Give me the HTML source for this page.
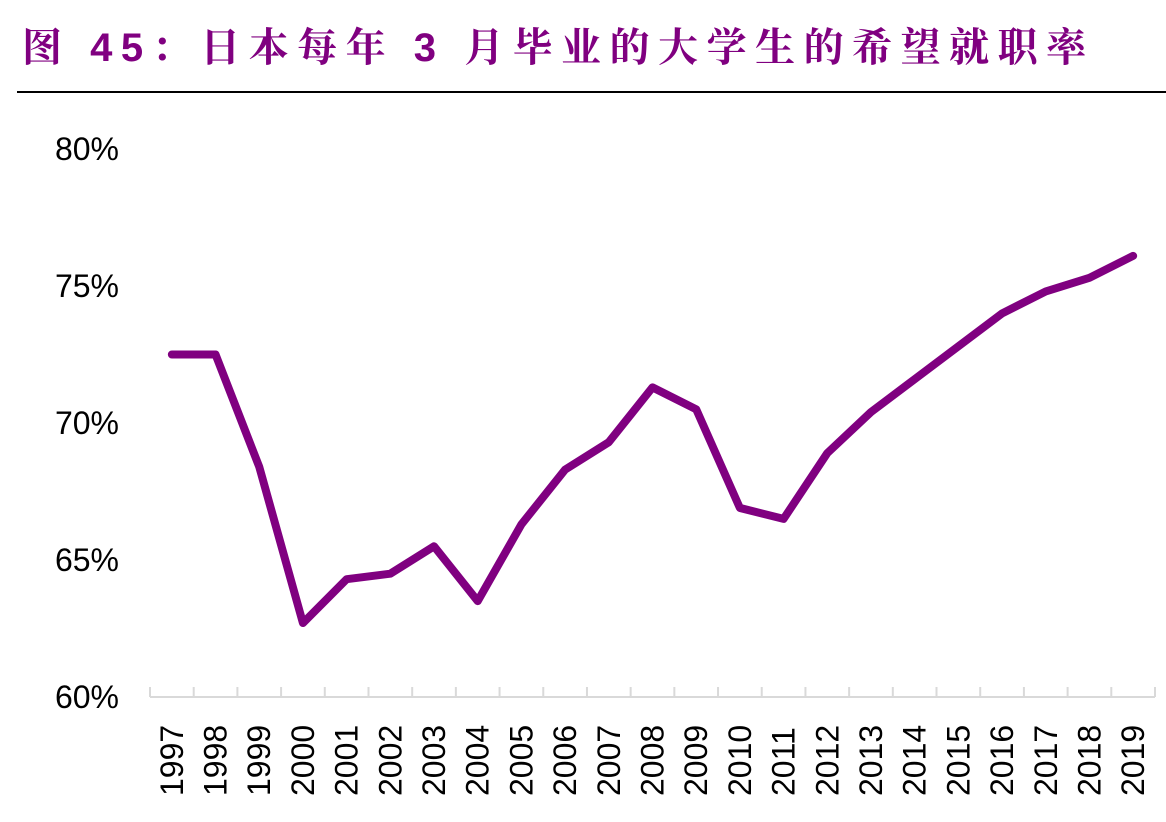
<!DOCTYPE html>
<html><head><meta charset="utf-8"><style>
body{margin:0;background:#fff;width:1166px;height:822px;overflow:hidden}
.t{position:absolute;left:22px;top:16px;font:bold 40px "Liberation Sans","Noto Serif CJK SC",serif;color:#800080;letter-spacing:8.5px;white-space:nowrap}
.rule{position:absolute;left:17px;top:91px;width:1149px;height:2px;background:#000}
</style></head><body>
<div class="t">图 45：日本每年 3 月毕业的大学生的希望就职率</div>
<div class="rule"></div>
<svg id="c" width="1166" height="822" style="position:absolute;left:0;top:0"></svg>
<script>
const years=['1997','1998','1999','2000','2001','2002','2003','2004','2005','2006','2007','2008','2009','2010','2011','2012','2013','2014','2015','2016','2017','2018','2019'];
const rates=[72.5,72.5,68.4,62.7,64.3,64.5,65.5,63.5,66.3,68.3,69.3,71.3,70.5,66.9,66.5,68.9,70.4,71.6,72.8,74.0,74.8,75.3,76.1];
const yTicks=[60,65,70,75,80];
const yTickLabels=['60%','65%','70%','75%','80%'];
const NS='http://www.w3.org/2000/svg',svg=document.getElementById('c');
const x0=150,x1=1155,yBot=697,yTop=149,band=(x1-x0)/years.length;
const X=i=>x0+band*(i+0.5), Y=v=>yBot-(v-60)/20*(yBot-yTop);
function mk(t,a){const e=document.createElementNS(NS,t);for(const k in a)e.setAttribute(k,a[k]);svg.appendChild(e);return e;}
yTicks.forEach((v,i)=>{const e=mk('text',{x:119,y:Y(v)+11,'text-anchor':'end','font-size':32,'font-family':'Liberation Sans, sans-serif',fill:'#000'});e.textContent=yTickLabels[i];

});
const ax=mk('line',{x1:x0,y1:yBot,x2:x1,y2:yBot,stroke:'#d9d9d9','stroke-width':2});


for(let i=0;i<=years.length;i++){const tk=mk('line',{x1:x0+band*i,y1:yBot-10,x2:x0+band*i,y2:yBot,stroke:'#d9d9d9','stroke-width':2});

}
years.forEach((y,i)=>{const e=mk('text',{transform:`translate(${X(i)+11},796) rotate(-90)`,'font-size':32,'font-family':'Liberation Sans, sans-serif',fill:'#000'});e.textContent=y;

});
const p=mk('polyline',{points:rates.map((v,i)=>X(i)+','+Y(v)).join(' '),fill:'none',stroke:'#800080','stroke-width':8,'stroke-linejoin':'round','stroke-linecap':'round'});


</script>
</body></html>
